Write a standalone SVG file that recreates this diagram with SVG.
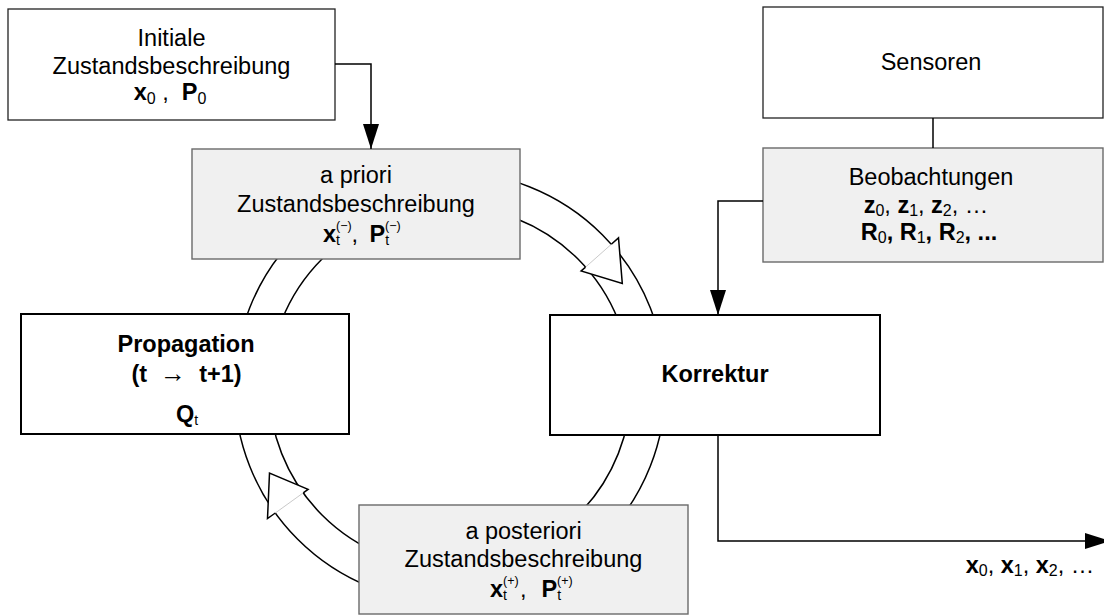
<svg xmlns="http://www.w3.org/2000/svg" width="1104" height="615" viewBox="0 0 1104 615">
  <style>
    text { font-family: "Liberation Sans", Arial, sans-serif; font-size: 23.5px; fill: #000; }
    .c { text-anchor: middle; }
    .b { font-weight: bold; }
    .sub { font-size: 16px; font-weight: normal; }
    .st { font-size: 14px; font-weight: normal; }
    .sup { font-size: 12.5px; font-weight: normal; }
    .box { fill: #fff; stroke: #222; stroke-width: 1.3; }
    .grey { fill: #f0f0f0; stroke: #6a6a6a; stroke-width: 1.4; }
    .heavy { fill: #fff; stroke: #000; stroke-width: 2; }
    .ring { fill: none; stroke: #000; stroke-width: 1.5; }
    .line { fill: none; stroke: #000; stroke-width: 1.5; }
    .head { fill: #fff; stroke: #000; stroke-width: 1.5; stroke-linejoin: miter; }
    .seam { fill: none; stroke: #bbb; stroke-width: 0.8; }
  </style>
  <defs>
    <marker id="arrow" markerUnits="userSpaceOnUse" markerWidth="26" markerHeight="17" refX="25" refY="8" orient="auto">
      <path d="M0,0 L25,8 L0,16 z" fill="#000"/>
    </marker>
  </defs>

  <rect width="1104" height="615" fill="#fff"/>

  <!-- filter cycle: a ring band running round behind the four state boxes -->
  <g id="cycle-ring">
    <circle class="ring" cx="450" cy="387" r="215.4"/>
    <circle class="ring" cx="450" cy="387" r="181"/>
  </g>

  <g id="initial">
    <rect class="box" x="8" y="9" width="327" height="111"/>
    <text class="c" x="171.5" y="46">Initiale</text>
    <text class="c" x="171.5" y="74">Zustandsbeschreibung</text>
    <text class="c" x="170" y="100" xml:space="preserve"><tspan class="b">x</tspan><tspan class="sub" dy="4">0</tspan><tspan dy="-4"> ,  </tspan><tspan class="b">P</tspan><tspan class="sub" dy="4">0</tspan></text>
  </g>

  <g id="a-priori">
    <rect class="grey" x="192" y="149" width="328" height="110"/>
    <text class="c" x="356" y="183">a priori</text>
    <text class="c" x="356" y="212">Zustandsbeschreibung</text>
    <text x="323" y="242"><tspan class="b">x</tspan><tspan class="st" dy="2.5">t</tspan><tspan class="sup" x="336" dy="-14.5">(−)</tspan><tspan x="351.5" dy="12">,</tspan><tspan class="b" x="369.5">P</tspan><tspan class="st" dy="2.5">t</tspan><tspan class="sup" x="385" dy="-14.5">(−)</tspan></text>
  </g>

  <g id="sensoren">
    <rect class="box" x="763" y="7" width="340" height="111"/>
    <text class="c" x="931" y="70">Sensoren</text>
  </g>

  <g id="beobachtungen">
    <rect class="grey" x="763" y="148" width="340" height="114"/>
    <text class="c" x="931" y="185">Beobachtungen</text>
    <text class="c" x="926" y="213"><tspan class="b">z</tspan><tspan class="sub" dy="3">0</tspan><tspan dy="-3">, </tspan><tspan class="b">z</tspan><tspan class="sub" dy="3">1</tspan><tspan dy="-3">, </tspan><tspan class="b">z</tspan><tspan class="sub" dy="3">2</tspan><tspan dy="-3">, …</tspan></text>
    <text class="c b" x="929" y="240"><tspan>R</tspan><tspan class="sub" dy="3">0</tspan><tspan dy="-3">, R</tspan><tspan class="sub" dy="3">1</tspan><tspan dy="-3">, R</tspan><tspan class="sub" dy="3">2</tspan><tspan dy="-3">, ...</tspan></text>
  </g>

  <g id="propagation">
    <rect class="heavy" x="21" y="314" width="328" height="120"/>
    <text class="c b" x="186" y="352">Propagation</text>
    <text class="c b" x="186.5" y="382" xml:space="preserve">(t  <tspan font-weight="normal" font-size="26">→</tspan>  t+1)</text>
    <text class="c" x="187" y="422"><tspan class="b">Q</tspan><tspan class="st" dy="3">t</tspan></text>
  </g>

  <g id="korrektur">
    <rect class="heavy" x="550" y="315" width="330" height="120"/>
    <text class="c b" x="715" y="382">Korrektur</text>
  </g>

  <g id="a-posteriori">
    <rect class="grey" x="359" y="505" width="329" height="109"/>
    <text class="c" x="523.5" y="539">a posteriori</text>
    <text class="c" x="523.5" y="567">Zustandsbeschreibung</text>
    <text x="490" y="597"><tspan class="b">x</tspan><tspan class="st" dy="2.5">t</tspan><tspan class="sup" x="503" dy="-14.5">(+)</tspan><tspan x="520" dy="12">,</tspan><tspan class="b" x="541.5">P</tspan><tspan class="st" dy="2.5">t</tspan><tspan class="sup" x="557" dy="-14.5">(+)</tspan></text>
  </g>

  <g id="connectors">
    <path class="line" d="M335,64 H371 V149" marker-end="url(#arrow)"/>
    <path class="line" d="M933,118 V148"/>
    <path class="line" d="M763,201 H718 V315" marker-end="url(#arrow)"/>
    <path class="line" d="M718,435 V541 H1110" marker-end="url(#arrow)"/>
    <!-- block-arrow heads on the cycle ring -->
    <path class="head" d="M611.3,244.3 L618.5,237.9 L622.3,283.5 L581.1,271 L585.6,267.1"/>
    <path class="seam" d="M611.3,244.3 L585.6,267.1"/>
    <path class="head" d="M275.3,513 L267.5,518.6 L269.5,473.1 L308.1,489.4 L303.2,492.9"/>
    <path class="seam" d="M275.3,513 L303.2,492.9"/>
  </g>

  <text class="c" x="1030" y="573"><tspan class="b">x</tspan><tspan class="sub" dy="3">0</tspan><tspan dy="-3">, </tspan><tspan class="b">x</tspan><tspan class="sub" dy="3">1</tspan><tspan dy="-3">, </tspan><tspan class="b">x</tspan><tspan class="sub" dy="3">2</tspan><tspan dy="-3">, …</tspan></text>
</svg>
